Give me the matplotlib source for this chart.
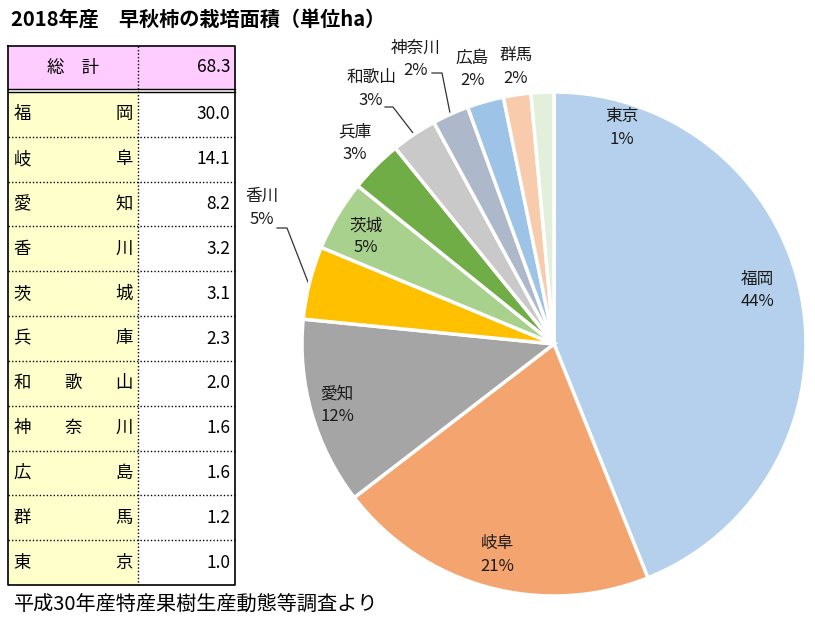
import matplotlib
matplotlib.use("Agg")
import matplotlib.pyplot as plt
from matplotlib.patches import Rectangle

plt.rcParams['font.family'] = ['Noto Sans CJK JP', 'DejaVu Sans']

# ---- data ----
prefectures = ["福岡", "岐阜", "愛知", "香川", "茨城", "兵庫", "和歌山", "神奈川", "広島", "群馬", "東京"]
areas = [30.0, 14.1, 8.2, 3.2, 3.1, 2.3, 2.0, 1.6, 1.6, 1.2, 1.0]
total_label = "総　計"
total_value = 68.3
title = "2018年産　早秋柿の栽培面積（単位ha）"
source = "平成30年産特産果樹生産動態等調査より"

colors = ["#B4D0EC", "#F4A46E", "#A5A5A5", "#FFC000", "#A9D18E", "#70AD47",
          "#C9C9C9", "#ADB9CA", "#9DC3E6", "#F8CBAD", "#E2EFDA"]

W, H = 815, 629
fig = plt.figure(figsize=(W / 100, H / 100), dpi=100)

# overlay axes in pixel coordinates
ov = fig.add_axes([0, 0, 1, 1])
ov.set_xlim(0, W)
ov.set_ylim(H, 0)
ov.axis("off")

# ---- pie ----
cx, cy, R = 554, 344, 252
pax = fig.add_axes([(cx - R) / W, (H - cy - R) / H, 2 * R / W, 2 * R / H])
wedges, _ = pax.pie(areas, colors=colors, startangle=90, counterclock=False,
                    wedgeprops=dict(edgecolor="white", linewidth=2.5))
for w in wedges:
    w.set_clip_on(False)
pax.set_xlim(-1, 1)
pax.set_ylim(-1, 1)
pax.axis("off")

tot = sum(areas)
pcts = [f"{round(a / tot * 100):d}%" for a in areas]

# label positions (data units of pie axes)
label_pos = [(0.806, 0.214), (-0.226, -0.837), (-0.861, -0.242), (-1.159, 0.540),
             (-0.746, 0.425), (-0.790, 0.798), (-0.726, 1.012), (-0.548, 1.131),
             (-0.325, 1.091), (-0.151, 1.099), (0.270, 0.857)]
for name, pct, (x, y) in zip(prefectures, pcts, label_pos):
    pax.text(x, y, f"{name}\n{pct}", ha="center", va="center", fontsize=12,
             linespacing=1.4, color="#1a1a1a")

# leader lines (pixel coordinates)
leaders = [[(277, 228), (287, 228), (308, 282)],
           [(385, 107), (393, 107), (413, 133)],
           [(432, 73), (442, 73), (450, 113)]]
for pts in leaders:
    xs, ys = zip(*pts)
    ov.plot(xs, ys, color="#333333", lw=0.9)

# ---- title & source ----
ov.text(11, 19, title, fontsize=14.5, fontweight="bold", ha="left", va="center")
ov.text(14, 604, source, fontsize=14.5, ha="left", va="center")

# ---- table ----
x0, xm, x1 = 8, 138, 235
hy0, hy1 = 46, 89
ry0 = 92
rh = (585 - 92) / len(prefectures)

ov.add_patch(Rectangle((x0, hy0), x1 - x0, hy1 - hy0, facecolor="#FFCCFF", edgecolor="none"))
ov.add_patch(Rectangle((x0, ry0), xm - x0, rh * len(prefectures), facecolor="#FFFFCC", edgecolor="none"))

# borders
ov.plot([x0, x1, x1, x0, x0], [hy0, hy0, 585, 585, hy0], color="black", lw=1.2)
ov.plot([x0, x1], [hy1, hy1], color="black", lw=1)
ov.plot([x0, x1], [ry0, ry0], color="black", lw=1)
ov.plot([xm, xm], [hy0, 585], color="black", lw=1, ls=(0, (1, 1.5)))
for i in range(1, len(prefectures)):
    y = ry0 + i * rh
    ov.plot([x0, x1], [y, y], color="black", lw=1, ls=(0, (1, 1.5)))

tfs = 12.5
ov.text(73, (hy0 + hy1) / 2, total_label, fontsize=tfs, ha="center", va="center")
ov.text(230, (hy0 + hy1) / 2, f"{total_value:.1f}", fontsize=tfs, ha="right", va="center")

for i, (name, val) in enumerate(zip(prefectures, areas)):
    yc = ry0 + (i + 0.5) * rh
    n = len(name)
    left, right = 22, 124
    for k, ch in enumerate(name):
        xc = left + (right - left) * k / (n - 1)
        ov.text(xc, yc, ch, fontsize=tfs, ha="center", va="center")
    ov.text(230, yc, f"{val:.1f}", fontsize=tfs, ha="right", va="center")

fig.savefig("out.png", dpi=100, facecolor="white")
